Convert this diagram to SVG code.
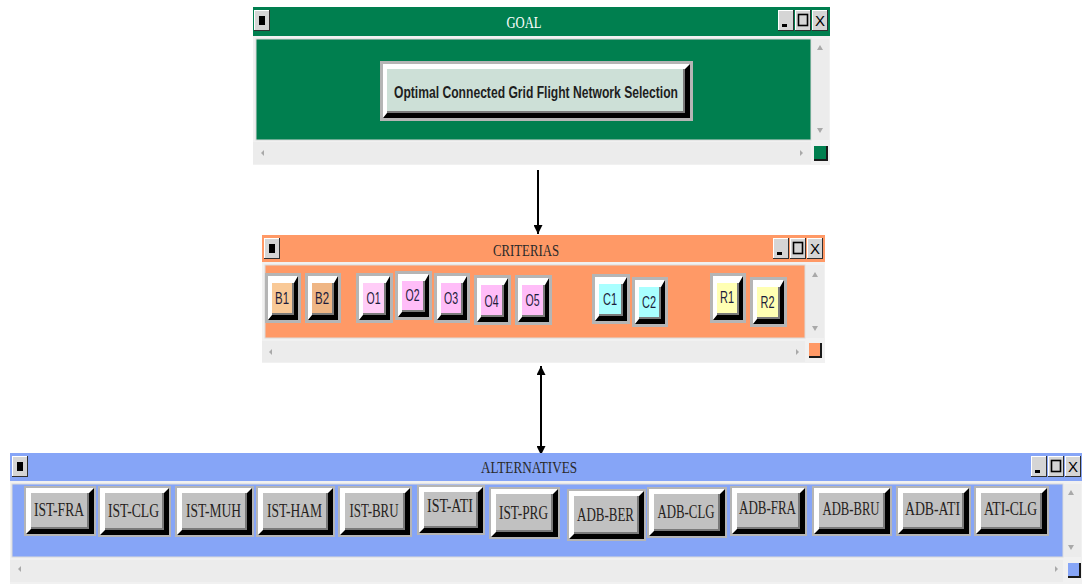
<svg xmlns="http://www.w3.org/2000/svg" xmlns:xlink="http://www.w3.org/1999/xlink" width="1082" height="584" viewBox="0 0 1082 584">
  <style>
    .frame { fill: #f1f1f1; }
    .sb { fill: #ececec; }
    .well { stroke: #dadada; stroke-width: 1; }
    .arr { fill: #a9a9a9; }
    .title { font-family: "Liberation Serif", "Times New Roman", serif; font-size: 16px; text-anchor: middle; }
    .bo { fill: #b5b5b5; }
    .bk { fill: #000; }
    .hi { fill: #fff; }
    .dk { fill: #7a7a7a; }
    .alt-face { fill: #c1c1c1; }
    .alt-lbl { font-family: "Liberation Serif", "Times New Roman", serif; font-size: 18px; fill: #262220; text-anchor: middle; }
    .crit-lbl { font-family: "Liberation Sans", Arial, sans-serif; font-size: 16px; fill: #1c1c3a; text-anchor: middle; }
    .wire { stroke: #000; stroke-width: 2; fill: none; }
  </style>
  <defs>
    <!-- small bevelled title-bar button -->
    <g id="tbtn">
      <rect width="16" height="21" fill="#303030"/>
      <rect width="15" height="20" fill="#fff"/>
      <rect x="1" y="1" width="14" height="19" fill="#d5d5d5"/>
    </g>
    <g id="tb-menu"><use xlink:href="#tbtn"/><rect x="5" y="6" width="6" height="9" fill="#000"/></g>
    <g id="tb-min"><use xlink:href="#tbtn"/><rect x="4" y="14" width="5" height="3" fill="#000"/></g>
    <g id="tb-max"><use xlink:href="#tbtn"/><rect x="3.5" y="4.5" width="9" height="11" fill="none" stroke="#000" stroke-width="1.6"/></g>
    <g id="tb-close"><use xlink:href="#tbtn"/><text x="8" y="16" font-family="Liberation Sans, Arial, sans-serif" font-size="15" text-anchor="middle" fill="#000">X</text></g>
    <marker id="head" viewBox="0 0 10 10" refX="10" refY="5" markerWidth="9" markerHeight="9" markerUnits="userSpaceOnUse" orient="auto-start-reverse">
      <path d="M0,0 L10,5 L0,10 z" fill="#000"/>
    </marker>
  </defs>

  <!-- connectors -->
  <g id="connectors">
    <line class="wire" x1="538" y1="170" x2="538" y2="234" marker-end="url(#head)"/>
    <line class="wire" x1="541" y1="366" x2="541" y2="455" marker-start="url(#head)" marker-end="url(#head)"/>
  </g>

  <!-- GOAL window -->
  <g id="goal">
    <rect class="frame" x="253" y="7" width="577" height="158"/>
    <rect x="253" y="7" width="577" height="29" fill="#007f4f"/>
    <use xlink:href="#tb-menu" x="254" y="10"/>
    <use xlink:href="#tb-min" x="778" y="10"/>
    <use xlink:href="#tb-max" x="795" y="10"/>
    <use xlink:href="#tb-close" x="812" y="10"/>
    <text class="title" x="524" y="28" fill="#ffffff" textLength="35" lengthAdjust="spacingAndGlyphs">GOAL</text>
    <rect class="well" x="256" y="39" width="555" height="101" fill="#007f4f"/>
    <rect class="sb" x="812" y="39" width="17" height="101"/>
    <polygon class="arr" points="817,50 820,45 823,50"/>
    <polygon class="arr" points="817,128 823,128 820,133"/>
    <rect class="sb" x="253" y="142" width="558" height="22"/>
    <polygon class="arr" points="264,150 264,156 261,153"/>
    <polygon class="arr" points="800,150 800,156 803,153"/>
    <rect x="814" y="146" width="14" height="15" fill="#1a1a1a"/>
    <rect x="814" y="146" width="12" height="13" fill="#007f4f"/>
    <g id="goal-node" transform="translate(380,61)">
      <rect class="bo" width="313" height="60"/>
      <rect class="bk" x="3" y="3" width="307" height="54"/>
      <polygon class="hi" points="3,3 310,3 305,8 7,8 7,52 3,57"/>
      <rect class="dk" x="7" y="8" width="298" height="44"/>
      <rect x="7" y="8" width="296" height="42" fill="#cde0d7"/>
      <text x="156" y="37" font-family="Liberation Sans, Arial, sans-serif" font-size="16" font-weight="bold" fill="#1e1e1e" text-anchor="middle" textLength="284" lengthAdjust="spacingAndGlyphs">Optimal Connected Grid Flight Network Selection</text>
    </g>
  </g>

  <!-- CRITERIAS window -->
  <g id="criterias">
    <rect class="frame" x="262" y="235" width="563" height="128"/>
    <rect x="262" y="235" width="563" height="27" fill="#ff9966"/>
    <use xlink:href="#tb-menu" x="264" y="238"/>
    <use xlink:href="#tb-min" x="773" y="238"/>
    <use xlink:href="#tb-max" x="790" y="238"/>
    <use xlink:href="#tb-close" x="807" y="238"/>
    <text class="title" x="526" y="256" fill="#2a2a2a" textLength="66" lengthAdjust="spacingAndGlyphs">CRITERIAS</text>
    <rect class="well" x="265" y="265" width="540" height="73" fill="#ff9966"/>
    <rect class="sb" x="806" y="265" width="18" height="73"/>
    <polygon class="arr" points="812,277 815,272 818,277"/>
    <polygon class="arr" points="812,326 818,326 815,331"/>
    <rect class="sb" x="262" y="341" width="543" height="21"/>
    <polygon class="arr" points="272,349 272,355 269,352"/>
    <polygon class="arr" points="796,349 796,355 799,352"/>
    <rect x="809" y="343" width="13" height="15" fill="#1a1a1a"/>
    <rect x="809" y="343" width="11" height="13" fill="#ff9966"/>
  </g>

  <g id="crit-B1" transform="translate(265,273)">
    <rect class="bo" width="36" height="50"/><rect class="bk" x="3" y="3" width="30" height="44"/>
    <polygon class="hi" points="3,3 33,3 29,10 7,10 7,42 3,47"/>
    <rect class="dk" x="7" y="10" width="22" height="32"/><rect x="7" y="10" width="20" height="30" fill="#f9c997"/>
    <text class="crit-lbl" x="17" y="31" textLength="14" lengthAdjust="spacingAndGlyphs">B1</text>
  </g>
  <g id="crit-B2" transform="translate(305,273)">
    <rect class="bo" width="36" height="50"/><rect class="bk" x="3" y="3" width="30" height="44"/>
    <polygon class="hi" points="3,3 33,3 29,10 7,10 7,42 3,47"/>
    <rect class="dk" x="7" y="10" width="22" height="32"/><rect x="7" y="10" width="20" height="30" fill="#efb685"/>
    <text class="crit-lbl" x="17" y="31" textLength="14" lengthAdjust="spacingAndGlyphs">B2</text>
  </g>
  <g id="crit-O1" transform="translate(356,273)">
    <rect class="bo" width="37" height="50"/><rect class="bk" x="3" y="3" width="31" height="44"/>
    <polygon class="hi" points="3,3 34,3 30,10 7,10 7,42 3,47"/>
    <rect class="dk" x="7" y="10" width="23" height="32"/><rect x="7" y="10" width="21" height="30" fill="#ffcdf7"/>
    <text class="crit-lbl" x="17.5" y="31" textLength="14" lengthAdjust="spacingAndGlyphs">O1</text>
  </g>
  <g id="crit-O2" transform="translate(395,271)">
    <rect class="bo" width="37" height="49"/><rect class="bk" x="3" y="3" width="31" height="43"/>
    <polygon class="hi" points="3,3 34,3 30,10 7,10 7,41 3,46"/>
    <rect class="dk" x="7" y="10" width="23" height="31"/><rect x="7" y="10" width="21" height="29" fill="#ffbdf8"/>
    <text class="crit-lbl" x="17.5" y="30" textLength="14" lengthAdjust="spacingAndGlyphs">O2</text>
  </g>
  <g id="crit-O3" transform="translate(434,273)">
    <rect class="bo" width="36" height="50"/><rect class="bk" x="3" y="3" width="30" height="44"/>
    <polygon class="hi" points="3,3 33,3 29,10 7,10 7,42 3,47"/>
    <rect class="dk" x="7" y="10" width="22" height="32"/><rect x="7" y="10" width="20" height="30" fill="#ffbdf8"/>
    <text class="crit-lbl" x="17" y="31" textLength="14" lengthAdjust="spacingAndGlyphs">O3</text>
  </g>
  <g id="crit-O4" transform="translate(474,275)">
    <rect class="bo" width="37" height="50"/><rect class="bk" x="3" y="3" width="31" height="44"/>
    <polygon class="hi" points="3,3 34,3 30,10 7,10 7,42 3,47"/>
    <rect class="dk" x="7" y="10" width="23" height="32"/><rect x="7" y="10" width="21" height="30" fill="#ffbdf8"/>
    <text class="crit-lbl" x="17.5" y="32" textLength="14" lengthAdjust="spacingAndGlyphs">O4</text>
  </g>
  <g id="crit-O5" transform="translate(515,275)">
    <rect class="bo" width="37" height="50"/><rect class="bk" x="3" y="3" width="31" height="44"/>
    <polygon class="hi" points="3,3 34,3 30,10 7,10 7,42 3,47"/>
    <rect class="dk" x="7" y="10" width="23" height="32"/><rect x="7" y="10" width="21" height="30" fill="#ffbdf8"/>
    <text class="crit-lbl" x="17.5" y="31" textLength="14" lengthAdjust="spacingAndGlyphs">O5</text>
  </g>
  <g id="crit-C1" transform="translate(592,274)">
    <rect class="bo" width="38" height="50"/><rect class="bk" x="3" y="3" width="32" height="44"/>
    <polygon class="hi" points="3,3 35,3 31,10 7,10 7,42 3,47"/>
    <rect class="dk" x="7" y="10" width="24" height="32"/><rect x="7" y="10" width="22" height="30" fill="#a9ffff"/>
    <text class="crit-lbl" x="18" y="31" textLength="14" lengthAdjust="spacingAndGlyphs">C1</text>
  </g>
  <g id="crit-C2" transform="translate(632,277)">
    <rect class="bo" width="36" height="50"/><rect class="bk" x="3" y="3" width="30" height="44"/>
    <polygon class="hi" points="3,3 33,3 29,10 7,10 7,42 3,47"/>
    <rect class="dk" x="7" y="10" width="22" height="32"/><rect x="7" y="10" width="20" height="30" fill="#a9ffff"/>
    <text class="crit-lbl" x="17" y="31" textLength="14" lengthAdjust="spacingAndGlyphs">C2</text>
  </g>
  <g id="crit-R1" transform="translate(710,273)">
    <rect class="bo" width="36" height="50"/><rect class="bk" x="3" y="3" width="30" height="44"/>
    <polygon class="hi" points="3,3 33,3 29,10 7,10 7,42 3,47"/>
    <rect class="dk" x="7" y="10" width="22" height="32"/><rect x="7" y="10" width="20" height="30" fill="#ffffb3"/>
    <text class="crit-lbl" x="17" y="30" textLength="14" lengthAdjust="spacingAndGlyphs">R1</text>
  </g>
  <g id="crit-R2" transform="translate(750,277)">
    <rect class="bo" width="37" height="50"/><rect class="bk" x="3" y="3" width="31" height="44"/>
    <polygon class="hi" points="3,3 34,3 30,10 7,10 7,42 3,47"/>
    <rect class="dk" x="7" y="10" width="23" height="32"/><rect x="7" y="10" width="21" height="30" fill="#ffffb3"/>
    <text class="crit-lbl" x="17.5" y="31" textLength="14" lengthAdjust="spacingAndGlyphs">R2</text>
  </g>

  <!-- ALTERNATIVES window -->
  <g id="alternatives">
    <rect class="frame" x="10" y="453" width="1072" height="131"/>
    <rect x="10" y="453" width="1072" height="28" fill="#86a5f7"/>
    <use xlink:href="#tb-menu" x="12" y="456"/>
    <use xlink:href="#tb-min" x="1031" y="456"/>
    <use xlink:href="#tb-max" x="1048" y="456"/>
    <use xlink:href="#tb-close" x="1065" y="456"/>
    <text class="title" x="529" y="473" fill="#2a2a2a" textLength="96" lengthAdjust="spacingAndGlyphs">ALTERNATIVES</text>
    <rect class="well" x="12" y="484" width="1051" height="73" fill="#86a5f7"/>
    <rect class="sb" x="1064" y="484" width="17" height="73"/>
    <polygon class="arr" points="1068,495 1071,490 1074,495"/>
    <polygon class="arr" points="1068,545 1074,545 1071,550"/>
    <rect class="sb" x="10" y="560" width="1053" height="22"/>
    <polygon class="arr" points="21,566 21,572 18,569"/>
    <polygon class="arr" points="1055,566 1055,572 1058,569"/>
    <rect x="1068" y="563" width="13" height="15" fill="#1a1a1a"/>
    <rect x="1068" y="563" width="11" height="13" fill="#86a5f7"/>
  </g>

  <g id="alt-IST-FRA" transform="translate(24,486)">
    <rect class="bo" width="72" height="50"/><rect class="bk" x="2" y="2" width="68" height="46"/>
    <polygon class="hi" points="2,2 70,2 65,7 7,7 7,43 2,48"/>
    <rect class="dk" x="7" y="7" width="58" height="36"/><rect class="alt-face" x="7" y="7" width="56" height="34"/>
    <text class="alt-lbl" x="35" y="30" textLength="50" lengthAdjust="spacingAndGlyphs">IST-FRA</text>
  </g>
  <g id="alt-IST-CLG" transform="translate(98,486)">
    <rect class="bo" width="73" height="51"/><rect class="bk" x="2" y="2" width="69" height="47"/>
    <polygon class="hi" points="2,2 71,2 66,7 7,7 7,44 2,49"/>
    <rect class="dk" x="7" y="7" width="59" height="37"/><rect class="alt-face" x="7" y="7" width="57" height="35"/>
    <text class="alt-lbl" x="35.5" y="31" textLength="51" lengthAdjust="spacingAndGlyphs">IST-CLG</text>
  </g>
  <g id="alt-IST-MUH" transform="translate(175,486)">
    <rect class="bo" width="79" height="51"/><rect class="bk" x="2" y="2" width="75" height="47"/>
    <polygon class="hi" points="2,2 77,2 72,7 7,7 7,44 2,49"/>
    <rect class="dk" x="7" y="7" width="65" height="37"/><rect class="alt-face" x="7" y="7" width="63" height="35"/>
    <text class="alt-lbl" x="38.5" y="31" textLength="55" lengthAdjust="spacingAndGlyphs">IST-MUH</text>
  </g>
  <g id="alt-IST-HAM" transform="translate(256,486)">
    <rect class="bo" width="79" height="51"/><rect class="bk" x="2" y="2" width="75" height="47"/>
    <polygon class="hi" points="2,2 77,2 72,7 7,7 7,44 2,49"/>
    <rect class="dk" x="7" y="7" width="65" height="37"/><rect class="alt-face" x="7" y="7" width="63" height="35"/>
    <text class="alt-lbl" x="38.5" y="31" textLength="55" lengthAdjust="spacingAndGlyphs">IST-HAM</text>
  </g>
  <g id="alt-IST-BRU" transform="translate(338,486)">
    <rect class="bo" width="74" height="51"/><rect class="bk" x="2" y="2" width="70" height="47"/>
    <polygon class="hi" points="2,2 72,2 67,7 7,7 7,44 2,49"/>
    <rect class="dk" x="7" y="7" width="60" height="37"/><rect class="alt-face" x="7" y="7" width="58" height="35"/>
    <text class="alt-lbl" x="36" y="31" textLength="49" lengthAdjust="spacingAndGlyphs">IST-BRU</text>
  </g>
  <g id="alt-IST-ATI" transform="translate(417,485)">
    <rect class="bo" width="68" height="50"/><rect class="bk" x="2" y="2" width="64" height="46"/>
    <polygon class="hi" points="2,2 66,2 61,7 7,7 7,43 2,48"/>
    <rect class="dk" x="7" y="7" width="54" height="36"/><rect class="alt-face" x="7" y="7" width="52" height="34"/>
    <text class="alt-lbl" x="33" y="27" textLength="46" lengthAdjust="spacingAndGlyphs">IST-ATI</text>
  </g>
  <g id="alt-IST-PRG" transform="translate(489,487)">
    <rect class="bo" width="71" height="52"/><rect class="bk" x="2" y="2" width="67" height="48"/>
    <polygon class="hi" points="2,2 69,2 64,7 7,7 7,45 2,50"/>
    <rect class="dk" x="7" y="7" width="57" height="38"/><rect class="alt-face" x="7" y="7" width="55" height="36"/>
    <text class="alt-lbl" x="34.5" y="32" textLength="49" lengthAdjust="spacingAndGlyphs">IST-PRG</text>
  </g>
  <g id="alt-ADB-BER" transform="translate(567,489)">
    <rect class="bo" width="79" height="52"/><rect class="bk" x="2" y="2" width="75" height="48"/>
    <polygon class="hi" points="2,2 77,2 72,7 7,7 7,45 2,50"/>
    <rect class="dk" x="7" y="7" width="65" height="38"/><rect class="alt-face" x="7" y="7" width="63" height="36"/>
    <text class="alt-lbl" x="38.5" y="32" textLength="57" lengthAdjust="spacingAndGlyphs">ADB-BER</text>
  </g>
  <g id="alt-ADB-CLG" transform="translate(647,487)">
    <rect class="bo" width="80" height="51"/><rect class="bk" x="2" y="2" width="76" height="47"/>
    <polygon class="hi" points="2,2 78,2 73,7 7,7 7,44 2,49"/>
    <rect class="dk" x="7" y="7" width="66" height="37"/><rect class="alt-face" x="7" y="7" width="64" height="35"/>
    <text class="alt-lbl" x="39" y="31" textLength="57" lengthAdjust="spacingAndGlyphs">ADB-CLG</text>
  </g>
  <g id="alt-ADB-FRA" transform="translate(730,486)">
    <rect class="bo" width="77" height="50"/><rect class="bk" x="2" y="2" width="73" height="46"/>
    <polygon class="hi" points="2,2 75,2 70,7 7,7 7,43 2,48"/>
    <rect class="dk" x="7" y="7" width="63" height="36"/><rect class="alt-face" x="7" y="7" width="61" height="34"/>
    <text class="alt-lbl" x="37.5" y="28" textLength="57" lengthAdjust="spacingAndGlyphs">ADB-FRA</text>
  </g>
  <g id="alt-ADB-BRU" transform="translate(812,486)">
    <rect class="bo" width="80" height="50"/><rect class="bk" x="2" y="2" width="76" height="46"/>
    <polygon class="hi" points="2,2 78,2 73,7 7,7 7,43 2,48"/>
    <rect class="dk" x="7" y="7" width="66" height="36"/><rect class="alt-face" x="7" y="7" width="64" height="34"/>
    <text class="alt-lbl" x="39" y="29" textLength="57" lengthAdjust="spacingAndGlyphs">ADB-BRU</text>
  </g>
  <g id="alt-ADB-ATI" transform="translate(896,486)">
    <rect class="bo" width="75" height="50"/><rect class="bk" x="2" y="2" width="71" height="46"/>
    <polygon class="hi" points="2,2 73,2 68,7 7,7 7,43 2,48"/>
    <rect class="dk" x="7" y="7" width="61" height="36"/><rect class="alt-face" x="7" y="7" width="59" height="34"/>
    <text class="alt-lbl" x="36.5" y="29" textLength="55" lengthAdjust="spacingAndGlyphs">ADB-ATI</text>
  </g>
  <g id="alt-ATI-CLG" transform="translate(974,486)">
    <rect class="bo" width="75" height="50"/><rect class="bk" x="2" y="2" width="71" height="46"/>
    <polygon class="hi" points="2,2 73,2 68,7 7,7 7,43 2,48"/>
    <rect class="dk" x="7" y="7" width="61" height="36"/><rect class="alt-face" x="7" y="7" width="59" height="34"/>
    <text class="alt-lbl" x="36.5" y="29" textLength="53" lengthAdjust="spacingAndGlyphs">ATI-CLG</text>
  </g>
</svg>
